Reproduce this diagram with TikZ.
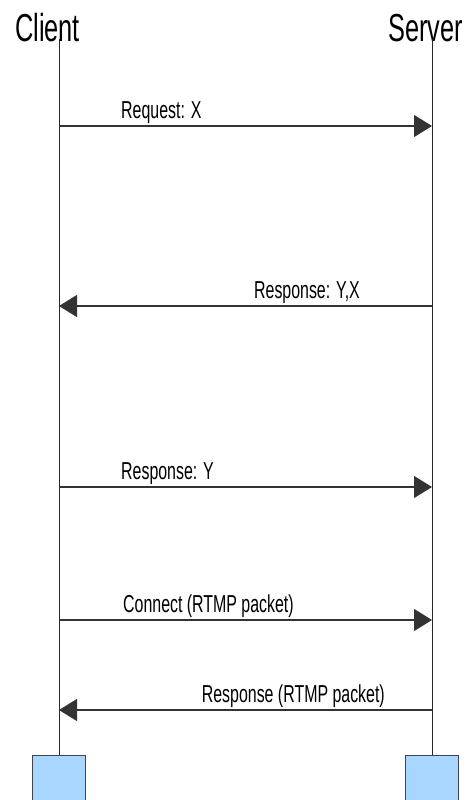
\documentclass[tikz,border=0pt]{standalone}
\usepackage{fontspec}
\setmainfont{Liberation Sans}[FakeStretch=0.65]
\usetikzlibrary{arrows.meta}
\definecolor{boxblue}{RGB}{168,214,255}
\definecolor{boxedge}{RGB}{60,70,85}
\begin{document}
\begin{tikzpicture}
[x=1pt,y=-1pt,
  titledecorate/.style={font=\fontsize{39}{39}\selectfont,inner sep=0pt},
  labeldecorate/.style={font=\fontsize{24.5}{24.5}\selectfont,inner sep=0pt},
  lifedecorate/.style={-,line width=1pt,draw=black!85},
  msgdecorate/.style={-{Triangle[length=18pt,width=22pt]},line width=1.2pt,draw=black!80},
  boxdecorate/.style={shape=rectangle,draw=boxedge,fill=boxblue,line width=1pt,
    minimum width=53pt,minimum height=50pt,inner sep=0pt}]
\useasboundingbox (0,0) rectangle (471,800);
%% actors and their boxes
\node (client) [titledecorate,anchor=base west] at (15,42) {Client};
\node (server) [titledecorate,anchor=base east] at (463,42) {Server};
\node (clientbox) [boxdecorate,anchor=north] at (59,755) {};
\node (serverbox) [boxdecorate,anchor=north] at (432,755) {};
%% lifelines
\coordinate (clienttop) at (59,39);
\coordinate (servertop) at (432,39);
\draw[lifedecorate] (clienttop) -- (clientbox.north);
\draw[lifedecorate] (servertop) -- (serverbox.north);
%% message points on the lifelines
\foreach \i/\y in {1/126, 2/306, 3/487, 4/620, 5/710}
{
  \coordinate (c\i) at (59,\y);
  \coordinate (s\i) at (432,\y);
}
%% messages
\foreach \startnode/\endnode/\anc/\shift/\msg in {c1/s1/west/62/{Request: X},
  s2/c2/east/-72/{Response: Y,X}, c3/s3/west/62/{Response: Y},
  c4/s4/west/64/{Connect (RTMP packet)}, s5/c5/east/-47/{Response (RTMP packet)}}
{
  \draw[msgdecorate] (\startnode) -- (\endnode);
  \node [labeldecorate,anchor=base \anc,xshift=\shift pt,yshift=8pt] at (\startnode) {\msg};
}
\end{tikzpicture}
\end{document}
